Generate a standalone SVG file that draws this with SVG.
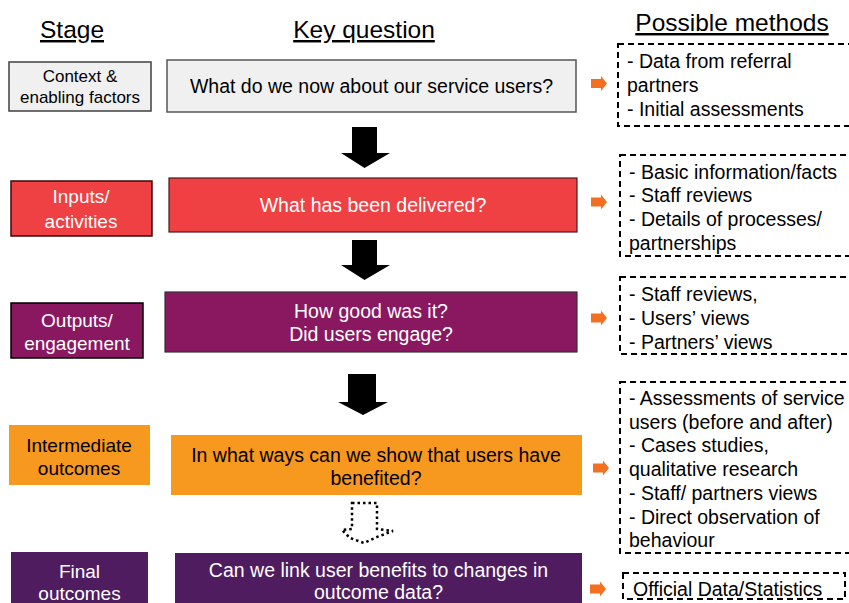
<svg xmlns="http://www.w3.org/2000/svg" width="849" height="603" viewBox="0 0 849 603">
<style>
text{font-family:"Liberation Sans",Arial,sans-serif;}
.hdr{font-size:24.5px;fill:#000;text-anchor:middle;text-decoration:underline;}
.st{font-size:19px;text-anchor:middle;}
.q{font-size:19.5px;text-anchor:middle;}
.m{font-size:19.5px;fill:#000;}
.w{fill:#fff;}
.k{fill:#000;}
.dash{fill:none;stroke:#000;stroke-width:2;stroke-dasharray:6,4;}
.oa{fill:#f37021;}
.ba{fill:#000;}
</style>
<defs>
<path id="oarr" d="M0,-4.5 L10,-4.5 L10,-7.5 L16,0 L10,7.5 L10,4.5 L0,4.5 Z"/>
</defs>
<g id="headers">
<text class="hdr" x="72" y="38">Stage</text>
<text class="hdr" x="364" y="38">Key question</text>
<text class="hdr" x="732" y="31">Possible methods</text>
</g>
<g id="stage-context">
<rect x="9" y="62" width="142" height="49" fill="#f0f0f0" stroke="#404040" stroke-width="1.5"/>
<text class="st k" x="80" y="82" style="font-size:17px">Context &amp;</text>
<text class="st k" x="80" y="103" style="font-size:17px">enabling factors</text>
</g>
<g id="q-context">
<rect x="167" y="60" width="409" height="52" fill="#f0f0f0" stroke="#555" stroke-width="1.5"/>
<text class="q k" x="371.5" y="93">What do we now about our service users?</text>
</g>
<g id="stage-inputs">
<rect x="11" y="181" width="141" height="55" fill="#ef4044" stroke="#3a0a0a" stroke-width="1.5"/>
<text class="st w" x="81" y="203">Inputs/</text>
<text class="st w" x="81" y="228">activities</text>
</g>
<g id="q-inputs">
<rect x="169" y="178" width="408" height="54" fill="#ef4044" stroke="#4a1a1a" stroke-width="1.2"/>
<text class="q w" x="373" y="212">What has been delivered?</text>
</g>
<g id="stage-outputs">
<rect x="11" y="303" width="132" height="55" fill="#8a1861" stroke="#000" stroke-width="1.5"/>
<text class="st w" x="77" y="327">Outputs/</text>
<text class="st w" x="77" y="350">engagement</text>
</g>
<g id="q-outputs">
<rect x="165" y="292" width="412" height="60" fill="#8a1861" stroke="#333" stroke-width="1.2"/>
<text class="q w" x="371" y="318">How good was it?</text>
<text class="q w" x="371" y="341">Did users engage?</text>
</g>
<g id="stage-intermediate">
<rect x="9" y="425" width="141" height="60" fill="#f7991e"/>
<text class="st k" x="79" y="452">Intermediate</text>
<text class="st k" x="79" y="475">outcomes</text>
</g>
<g id="q-intermediate">
<rect x="171" y="435" width="411" height="60" fill="#f7991e"/>
<text class="q k" x="376" y="462">In what ways can we show that users have</text>
<text class="q k" x="376" y="485">benefited?</text>
</g>
<g id="stage-final">
<rect x="11" y="552" width="137" height="55" fill="#4f1c5f"/>
<text class="st w" x="79.5" y="578">Final</text>
<text class="st w" x="79.5" y="600">outcomes</text>
</g>
<g id="q-final">
<rect x="175" y="553" width="407" height="55" fill="#4f1c5f"/>
<text class="q w" x="378.5" y="577">Can we link user benefits to changes in</text>
<text class="q w" x="378.5" y="599">outcome data?</text>
</g>
<g id="methods-context">
<rect x="618" y="44" width="240" height="82" class="dash"/>
<text class="m" x="627" y="68">- Data from referral</text>
<text class="m" x="627" y="92">partners</text>
<text class="m" x="627" y="116">- Initial assessments</text>
</g>
<g id="methods-inputs">
<rect x="620" y="155" width="240" height="101" class="dash"/>
<text class="m" x="629" y="179">- Basic information/facts</text>
<text class="m" x="629" y="202">- Staff reviews</text>
<text class="m" x="629" y="226">- Details of processes/</text>
<text class="m" x="629" y="250">partnerships</text>
</g>
<g id="methods-outputs">
<rect x="620" y="277" width="240" height="77" class="dash"/>
<text class="m" x="629" y="301">- Staff reviews,</text>
<text class="m" x="629" y="325">- Users’ views</text>
<text class="m" x="629" y="349">- Partners’ views</text>
</g>
<g id="methods-intermediate">
<rect x="620" y="382" width="240" height="171" class="dash"/>
<text class="m" x="629" y="405">- Assessments of service</text>
<text class="m" x="629" y="429">users (before and after)</text>
<text class="m" x="629" y="452">- Cases studies,</text>
<text class="m" x="629" y="476">qualitative research</text>
<text class="m" x="629" y="500">- Staff/ partners views</text>
<text class="m" x="629" y="524">- Direct observation of</text>
<text class="m" x="629" y="547">behaviour</text>
</g>
<g id="methods-final">
<rect x="623" y="573" width="222" height="26" class="dash"/>
<text class="m" x="633" y="596">Official Data/Statistics</text>
</g>
<g id="connectors">
<path class="ba" d="M352,127 L377,127 L377,153 L390,153 L364.5,168 L341,153 L352,153 Z"/>
<path class="ba" d="M352,240 L377,240 L377,265 L390,265 L364.5,280 L341,265 L352,265 Z"/>
<path class="ba" d="M348,374 L376,374 L376,402 L388,402 L363,415 L338,402 L348,402 Z"/>
<path d="M352,503 L377,503 L377,529 L393,531 L377,537 L364,543 L350,538 L342,530 L352,529 Z" fill="none" stroke="#000" stroke-width="2.5" stroke-dasharray="2.5,3"/>
<use href="#oarr" class="oa" x="591" y="83.5"/>
<use href="#oarr" class="oa" x="591" y="202"/>
<use href="#oarr" class="oa" x="591" y="318"/>
<use href="#oarr" class="oa" x="593" y="468"/>
<use href="#oarr" class="oa" x="590" y="589"/>
</g>
</svg>
